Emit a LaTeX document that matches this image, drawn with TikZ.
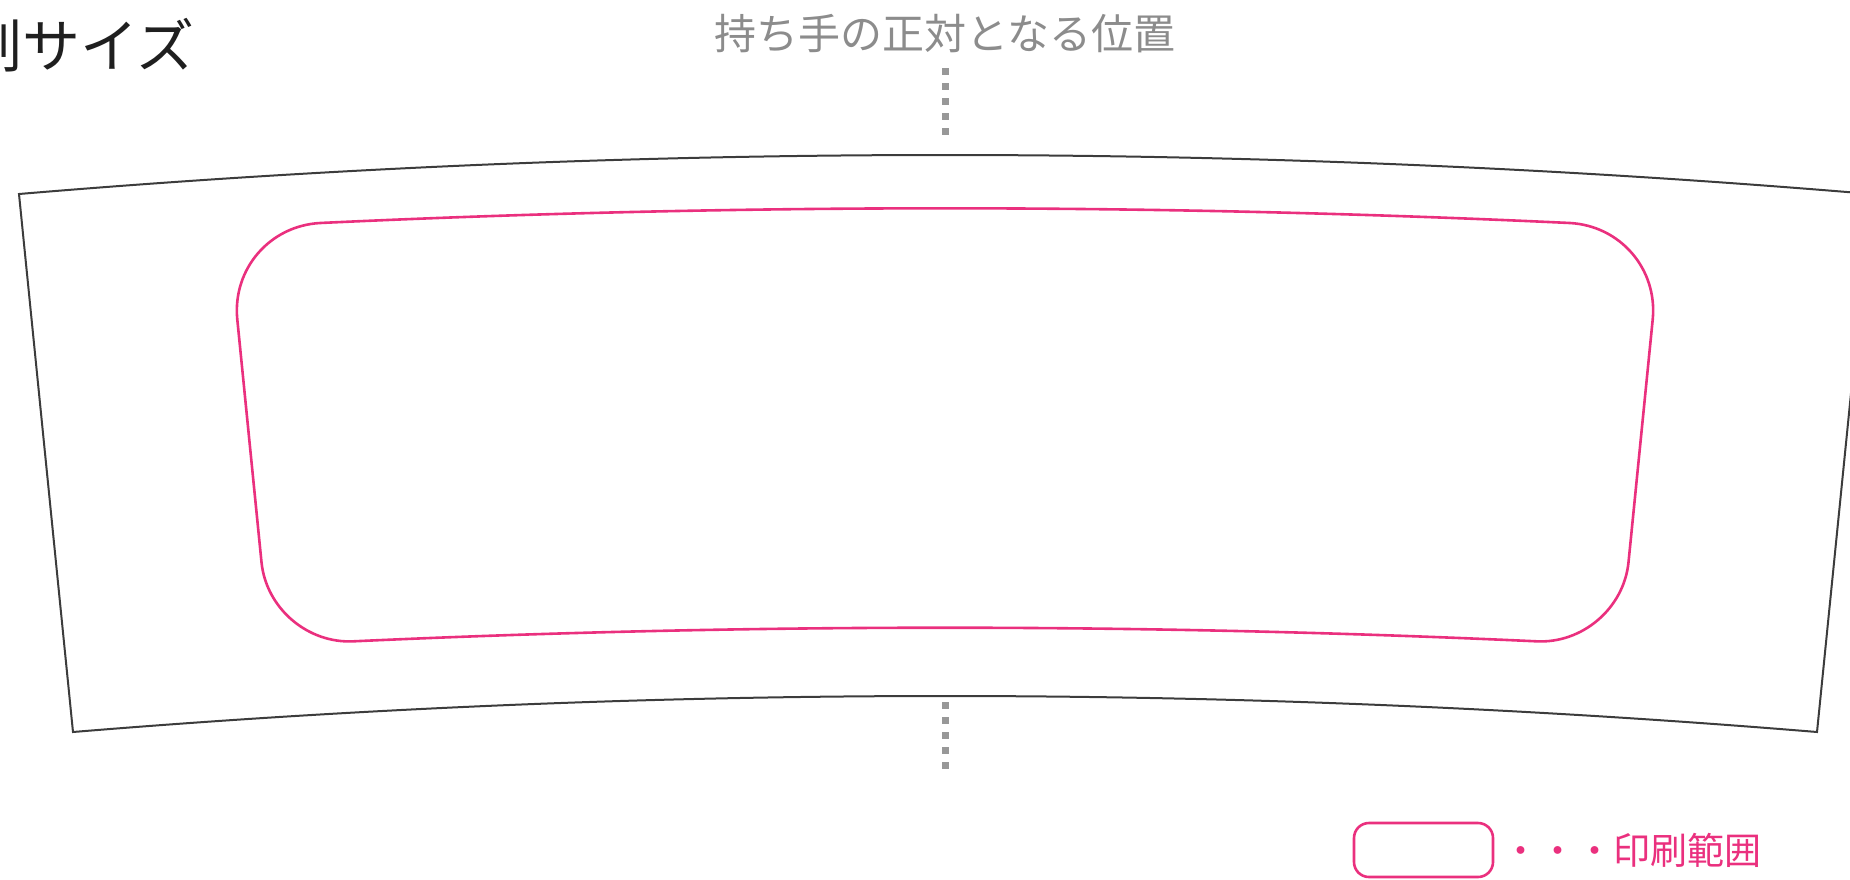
\documentclass[tikz,border=0pt]{standalone}
\usepackage{fontspec}
\newfontfamily\jp{Noto Sans CJK JP}
\usepackage{tikz}
\usetikzlibrary{positioning,calc}
\definecolor{inkpink}{RGB}{234,48,126}
\definecolor{markgray}{RGB}{152,152,152}
\definecolor{textgray}{RGB}{140,140,140}
\definecolor{edgegray}{RGB}{60,60,60}
\tikzset{cupline/.style={draw=edgegray,line width=2pt},
  printarea/.style={draw=inkpink,line width=2.6pt},
  handlemark/.style={draw=markgray,line width=7pt,dash pattern=on 7pt off 8pt}}
\newcommand*{\jpsize}[1]{\jp\fontsize{#1}{#1}\selectfont}

\begin{document}
\begin{tikzpicture}[x=1pt,y=-1pt,inner sep=0pt]
\useasboundingbox (0,0) rectangle (1850,879);
\clip (0,0) rectangle (1850,879);
% Titles
\node[anchor=west,text=black!88] (title) at (-94,45) {\jpsize{58}印刷サイズ};
\node[text=textgray] (handle) at (945,34) {\jpsize{42}持ち手の正対となる位置};
% Marks for the handle position
\draw[handlemark] (945,68) coordinate (mt) -- (945,135);
\draw[handlemark] (945,702) coordinate (mb) -- (945,770);
% Draw the sleeve outline (arcs as quadratic curves)
\coordinate (a) at (19,194);  \coordinate (b) at (1871,194);
\coordinate (c) at (1817,732); \coordinate (d) at (73,732);
\coordinate (ca) at (945,116); \coordinate (cb) at (945,660);
\draw[cupline] (a) .. controls ($(a)!2/3!(ca)$) and ($(b)!2/3!(ca)$) .. (b)
  -- (c) .. controls ($(c)!2/3!(cb)$) and ($(d)!2/3!(cb)$) .. (d) -- cycle;
% Print area: corners and tangent points
\coordinate (k1) at (228.2,228);    \coordinate (k2) at (1661.8,228);
\coordinate (k3) at (1620.2,645.8); \coordinate (k4) at (269.8,645.8);
\coordinate (lt) at (237.3,319.5);  \coordinate (tl) at (320.1,223);
\coordinate (tr) at (1569.9,223);   \coordinate (rt) at (1652.7,319.5);
\coordinate (rb) at (1628.5,562.2); \coordinate (br) at (1536.3,641.3);
\coordinate (bl) at (353.7,641.3);  \coordinate (lb) at (261.5,562.2);
\coordinate (pt) at (945,193.6);    \coordinate (pb) at (945,614.1);
\draw[printarea] (lt) .. controls ($(lt)!0.55!(k1)$) and ($(tl)!0.55!(k1)$) .. (tl)
  .. controls ($(tl)!2/3!(pt)$) and ($(tr)!2/3!(pt)$) .. (tr)
  .. controls ($(tr)!0.55!(k2)$) and ($(rt)!0.55!(k2)$) .. (rt)
  -- (rb)
  .. controls ($(rb)!0.55!(k3)$) and ($(br)!0.55!(k3)$) .. (br)
  .. controls ($(br)!2/3!(pb)$) and ($(bl)!2/3!(pb)$) .. (bl)
  .. controls ($(bl)!0.55!(k4)$) and ($(lb)!0.55!(k4)$) .. (lb)
  -- cycle;
% Legend
\node[printarea,rounded corners=15pt,minimum width=139pt,minimum height=54pt] (key) at (1423.5,850) {};
\node[right=8pt of key,text=inkpink] (keytext) {\jpsize{37}・・・印刷範囲};
\end{tikzpicture}
\end{document}
